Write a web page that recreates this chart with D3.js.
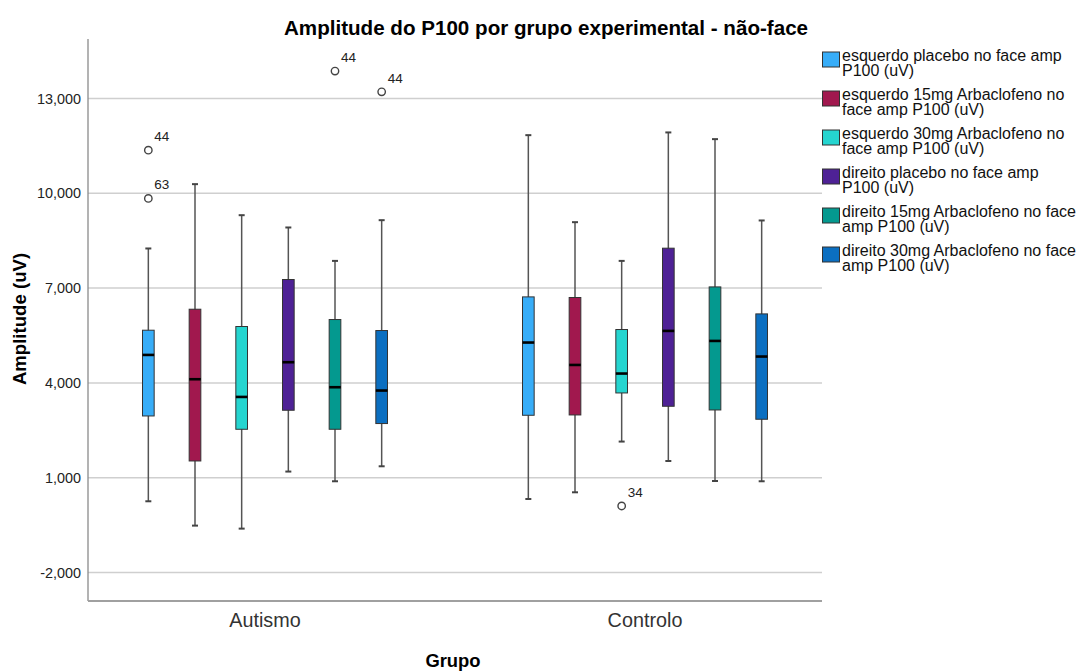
<!DOCTYPE html>
<html>
<head>
<meta charset="utf-8">
<script src="https://cdn.jsdelivr.net/npm/d3@7"></script>
<style>
  body { margin: 0; background: #fff; }
  svg { display: block; font-family: "Liberation Sans", Arial, sans-serif; }
</style>
</head>
<body>
<div id="chart"></div>
<script>
// data
const groups = ["Autismo", "Controlo"];
const seriesNames = [
  "esquerdo placebo no face amp\nP100 (uV)",
  "esquerdo 15mg Arbaclofeno no\nface amp P100 (uV)",
  "esquerdo 30mg Arbaclofeno no\nface amp P100 (uV)",
  "direito placebo no face amp\nP100 (uV)",
  "direito 15mg Arbaclofeno no face\namp P100 (uV)",
  "direito 30mg Arbaclofeno no face\namp P100 (uV)"
];
const colors = ["#37adf8", "#a1184e", "#25d5d0", "#4e2195", "#04998f", "#0b6fc1"];

const autismoMin = [255, -515, -610, 1195, 888, 1362];
const autismoQ1  = [2954, 1530, 2533, 3135, 2533, 2714];
const autismoMed = [4885, 4116, 3556, 4654, 3863, 3758];
const autismoQ3  = [5667, 6331, 5784, 7271, 6005, 5657];
const autismoMax = [8253, 10288, 9306, 8917, 7860, 9148];

const controloMin = [327, 539, 2144, 1530, 897, 888];
const controloQ1  = [2976, 2986, 3682, 3261, 3144, 2850];
const controloMed = [5277, 4568, 4296, 5645, 5328, 4834];
const controloQ3  = [6721, 6702, 5689, 8262, 7037, 6183];
const controloMax = [11838, 9085, 7860, 11924, 11712, 9139];

const outlierGroup  = ["Autismo", "Autismo", "Autismo", "Autismo", "Controlo"];
const outlierSeries = [0, 0, 4, 5, 2];
const outlierValue  = [11364, 9835, 13864, 13209, 106];
const outlierLabel  = ["44", "63", "44", "44", "34"];

const yTicks = [-2000, 1000, 4000, 7000, 10000, 13000];

let width = 1089, height = 672;
let margin = {top: 39, right: 267, bottom: 71, left: 88};

let svg = d3.select("#chart").append("svg")
  .attr("width", width)
  .attr("height", height);

let plotRight = width - margin.right;
let plotBottom = height - margin.bottom;

let y = d3.scaleLinear()
  .domain([-2900, 14880])
  .range([plotBottom, margin.top]);

// groups are wider than the plot, spss style
let x0 = d3.scaleBand()
  .domain(groups)
  .range([margin.left - 13, plotRight + 13]);

let xi = d3.scaleBand()
  .domain(d3.range(seriesNames.length))
  .range([-140, 140]);

let boxW = xi.bandwidth() * 0.25;

// build rows
let rows = [];
let stats = {
  "Autismo": [autismoMin, autismoQ1, autismoMed, autismoQ3, autismoMax],
  "Controlo": [controloMin, controloQ1, controloMed, controloQ3, controloMax]
};
groups.forEach(function(g) {
  seriesNames.forEach(function(s, i) {
    let st = stats[g];
    rows.push({
      group: g, idx: i,
      min: st[0][i], q1: st[1][i], med: st[2][i], q3: st[3][i], max: st[4][i],
      cx: x0(g) + x0.bandwidth() / 2 + xi(i) + xi.bandwidth() / 2
    });
  });
});

// gridlines
svg.append("g")
  .selectAll("line")
  .data(yTicks)
  .enter().append("line")
  .attr("x1", margin.left)
  .attr("x2", plotRight)
  .attr("y1", d => y(d))
  .attr("y2", d => y(d))
  .attr("stroke", "#cfcfcf")
  .attr("stroke-width", 1.5);

// y axis (plain hyphen for negatives, like the original)
let fmt = d3.format(",d");
let yAxis = d3.axisLeft(y)
  .tickValues(yTicks)
  .tickFormat(d => fmt(d).replace("\u2212", "-"))
  .tickSize(0)
  .tickPadding(7);

let gy = svg.append("g")
  .attr("transform", "translate(" + margin.left + ",0)")
  .call(yAxis);
gy.select(".domain").remove();
gy.selectAll("text")
  .style("font-size", "14.4px")
  .attr("fill", "#222");

svg.append("line")
  .attr("x1", margin.left).attr("x2", margin.left)
  .attr("y1", margin.top).attr("y2", plotBottom)
  .attr("stroke", "#8a8a8a").attr("stroke-width", 1.3);

svg.append("line")
  .attr("x1", margin.left).attr("x2", plotRight)
  .attr("y1", plotBottom).attr("y2", plotBottom)
  .attr("stroke", "#a0a0a0").attr("stroke-width", 2);

// x axis labels
let xAxis = d3.axisBottom(x0).tickSize(0).tickPadding(12);
let gx = svg.append("g")
  .attr("transform", "translate(0," + plotBottom + ")")
  .call(xAxis);
gx.select(".domain").remove();
gx.selectAll("text")
  .style("font-size", "19.8px")
  .attr("fill", "#333");

//////BOXES
let boxes = svg.append("g").selectAll("g").data(rows).enter().append("g");

boxes.append("line")
  .attr("x1", d => d.cx).attr("x2", d => d.cx)
  .attr("y1", d => y(d.max)).attr("y2", d => y(d.min))
  .attr("stroke", "#555").attr("stroke-width", 1.5);

boxes.selectAll(".cap")
  .data(d => [d.min, d.max].map(v => ({v: v, cx: d.cx})))
  .enter().append("line")
  .attr("class", "cap")
  .attr("x1", d => d.cx - 3).attr("x2", d => d.cx + 3)
  .attr("y1", d => y(d.v)).attr("y2", d => y(d.v))
  .attr("stroke", "#444").attr("stroke-width", 2);

boxes.append("rect")
  .attr("x", d => d.cx - boxW / 2)
  .attr("width", boxW)
  .attr("y", d => y(d.q3))
  .attr("height", d => y(d.q1) - y(d.q3))
  .attr("fill", d => colors[d.idx])
  .attr("stroke", "#333")
  .attr("stroke-width", 1);

boxes.append("line")
  .attr("x1", d => d.cx - boxW / 2).attr("x2", d => d.cx + boxW / 2)
  .attr("y1", d => y(d.med)).attr("y2", d => y(d.med))
  .attr("stroke", "#000").attr("stroke-width", 2.6);

//////OUTLIERS
let outliers = outlierValue.map(function(v, i) {
  return {
    v: v, label: outlierLabel[i],
    cx: x0(outlierGroup[i]) + x0.bandwidth() / 2 + xi(outlierSeries[i]) + xi.bandwidth() / 2
  };
});

let og = svg.append("g").selectAll("g").data(outliers).enter().append("g");
og.append("circle")
  .attr("cx", d => d.cx)
  .attr("cy", d => y(d.v))
  .attr("r", 3.7)
  .attr("fill", "#fff")
  .attr("stroke", "#444")
  .attr("stroke-width", 1.4);
og.append("text")
  .attr("x", d => d.cx + 6)
  .attr("y", d => y(d.v) - 9)
  .text(d => d.label)
  .style("font-size", "13.5px")
  .attr("fill", "#222");

// titles
svg.append("text")
  .attr("x", 546).attr("y", 35)
  .attr("text-anchor", "middle")
  .style("font-size", "20.6px").style("font-weight", "bold")
  .text("Amplitude do P100 por grupo experimental - não-face");

svg.append("text")
  .attr("transform", "translate(26,319) rotate(-90)")
  .attr("text-anchor", "middle")
  .style("font-size", "18.6px").style("font-weight", "bold")
  .text("Amplitude (uV)");

svg.append("text")
  .attr("x", 453).attr("y", 667)
  .attr("text-anchor", "middle")
  .style("font-size", "18.4px").style("font-weight", "bold")
  .text("Grupo");

//////LEGEND
let leg = svg.append("g").selectAll("g")
  .data(seriesNames)
  .enter().append("g")
  .attr("transform", (d, i) => "translate(822," + (52 + i * 39) + ")");

leg.append("rect")
  .attr("x", 0.5).attr("y", 0)
  .attr("width", 17).attr("height", 15)
  .attr("fill", (d, i) => colors[i])
  .attr("stroke", "#333").attr("stroke-width", 1);

leg.append("text")
  .attr("x", 20)
  .attr("y", 9)
  .style("font-size", "16px")
  .attr("fill", "#111")
  .selectAll("tspan")
  .data(d => d.split("\n"))
  .enter().append("tspan")
  .attr("x", 20)
  .attr("dy", (d, i) => i == 0 ? 0 : 14.5)
  .text(d => d);
</script>
</body>
</html>
